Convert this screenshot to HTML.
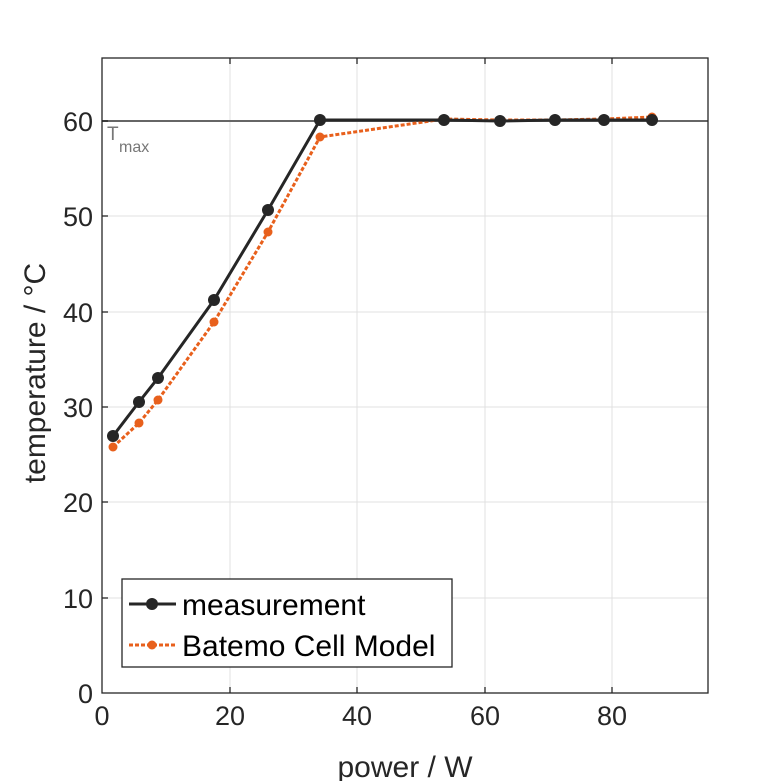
<!DOCTYPE html>
<html><head><style>body{margin:0;background:#fff}svg{display:block}</style></head><body>
<svg width="781" height="781" xmlns="http://www.w3.org/2000/svg" font-family="Liberation Sans, sans-serif">
<rect width="781" height="781" fill="#fff"/>
<g stroke="#e0e0e0" stroke-width="1">
<line x1="230" y1="58" x2="230" y2="693"/><line x1="357" y1="58" x2="357" y2="693"/><line x1="485" y1="58" x2="485" y2="693"/><line x1="612" y1="58" x2="612" y2="693"/>
<line x1="102" y1="598" x2="708" y2="598"/><line x1="102" y1="502" x2="708" y2="502"/><line x1="102" y1="407" x2="708" y2="407"/><line x1="102" y1="312" x2="708" y2="312"/><line x1="102" y1="216" x2="708" y2="216"/><line x1="102" y1="121" x2="708" y2="121"/>
</g>
<line x1="102" y1="121" x2="708" y2="121" stroke="#666" stroke-width="2"/>
<text x="107" y="140" font-size="19" fill="#777">T</text><text x="119" y="152" font-size="16" fill="#777">max</text>
<rect x="102" y="58" width="606" height="635" fill="none" stroke="#262626" stroke-width="1.3"/>
<g stroke="#262626" stroke-width="1.3">
<line x1="230" y1="693" x2="230" y2="687"/><line x1="357" y1="693" x2="357" y2="687"/><line x1="485" y1="693" x2="485" y2="687"/><line x1="612" y1="693" x2="612" y2="687"/>
<line x1="230" y1="58" x2="230" y2="64"/><line x1="357" y1="58" x2="357" y2="64"/><line x1="485" y1="58" x2="485" y2="64"/><line x1="612" y1="58" x2="612" y2="64"/>
<line x1="102" y1="598" x2="108" y2="598"/><line x1="102" y1="502" x2="108" y2="502"/><line x1="102" y1="407" x2="108" y2="407"/><line x1="102" y1="312" x2="108" y2="312"/><line x1="102" y1="216" x2="108" y2="216"/><line x1="102" y1="121" x2="108" y2="121"/>
</g>
<polyline points="113,447 139,423 158,400 214,322 268,232 320,137 444,119 500,120 555,120 604,119 652,117" fill="none" stroke="#e8601c" stroke-width="3" stroke-dasharray="4,2"/>
<g fill="#e8601c"><circle cx="113" cy="447" r="4.5"/><circle cx="139" cy="423" r="4.5"/><circle cx="158" cy="400" r="4.5"/><circle cx="214" cy="322" r="4.5"/><circle cx="268" cy="232" r="4.5"/><circle cx="320" cy="137" r="4.5"/><circle cx="444" cy="119" r="4.5"/><circle cx="500" cy="120" r="4.5"/><circle cx="555" cy="120" r="4.5"/><circle cx="604" cy="119" r="4.5"/><circle cx="652" cy="117" r="4.5"/></g>
<polyline points="113,436 139,402 158,378 214,300 268,210 320,120 444,120 500,121 555,120 604,120 652,120" fill="none" stroke="#262626" stroke-width="3"/>
<g fill="#262626"><circle cx="113" cy="436" r="6"/><circle cx="139" cy="402" r="6"/><circle cx="158" cy="378" r="6"/><circle cx="214" cy="300" r="6"/><circle cx="268" cy="210" r="6"/><circle cx="320" cy="120" r="6"/><circle cx="444" cy="120" r="6"/><circle cx="500" cy="121" r="6"/><circle cx="555" cy="120" r="6"/><circle cx="604" cy="120" r="6"/><circle cx="652" cy="120" r="6"/></g>
<g font-size="27" fill="#262626" text-anchor="middle">
<text x="102" y="725">0</text><text x="230" y="725">20</text><text x="357" y="725">40</text><text x="485" y="725">60</text><text x="612" y="725">80</text>
</g>
<g font-size="27" fill="#262626" text-anchor="end">
<text x="93" y="703">0</text><text x="93" y="608">10</text><text x="93" y="512">20</text><text x="93" y="417">30</text><text x="93" y="322">40</text><text x="93" y="226">50</text><text x="93" y="131">60</text>
</g>
<text x="405" y="777" font-size="30" fill="#262626" text-anchor="middle">power / W</text>
<text transform="translate(45,373) rotate(-90)" font-size="30" fill="#262626" text-anchor="middle">temperature / °C</text>
<rect x="122" y="579" width="330" height="88" fill="#fff" stroke="#262626" stroke-width="1.3"/>
<line x1="129" y1="604" x2="176" y2="604" stroke="#262626" stroke-width="3"/><circle cx="152" cy="604" r="6" fill="#262626"/>
<text x="182" y="615" font-size="30" fill="#000">measurement</text>
<line x1="129" y1="645" x2="176" y2="645" stroke="#e8601c" stroke-width="3" stroke-dasharray="4,2"/><circle cx="152" cy="645" r="4.5" fill="#e8601c"/>
<text x="182" y="656" font-size="30" fill="#000">Batemo Cell Model</text>
</svg>
</body></html>
